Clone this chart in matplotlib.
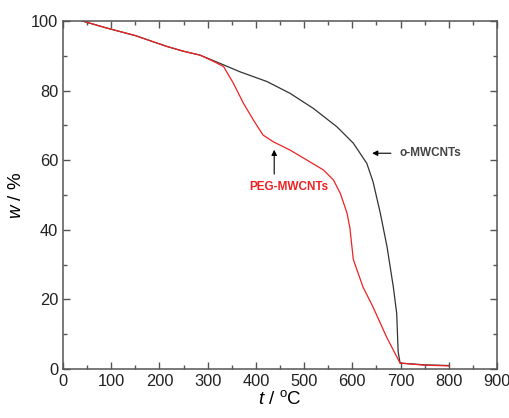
import numpy as np
import matplotlib.pyplot as plt
from matplotlib.ticker import MultipleLocator

plt.rcParams['font.family'] = ['Liberation Sans', 'DejaVu Sans']
plt.rcParams['mathtext.fontset'] = 'custom'
plt.rcParams['mathtext.it'] = 'Liberation Sans:italic'
plt.rcParams['mathtext.rm'] = 'Liberation Sans'

# --- data ---
t_o = [40, 90, 150, 215, 250, 284, 326, 367, 423, 471, 519, 568, 602, 630, 643,
       658, 672, 685, 692, 695, 699, 750, 800]
w_o = [100, 98, 95.8, 92.7, 91.3, 90.2, 87.8, 85.4, 82.6, 79.2, 74.9, 69.6, 64.9,
       59.1, 53.8, 44.8, 35.1, 23.6, 16, 5, 1.7, 1.2, 1.0]

t_peg = [40, 90, 150, 215, 250, 284, 312, 333, 353, 374, 395, 415, 436, 471, 505,
         540, 561, 575, 589, 595, 602, 622, 643, 671, 699, 750, 800]
w_peg = [100, 98, 95.8, 92.7, 91.3, 90.2, 88.4, 86.9, 82.2, 76.4, 71.5, 67.2, 65.3,
         62.9, 60.1, 57.2, 54.3, 50.5, 44.8, 40.5, 31.5, 23.6, 17.8, 9.2, 1.7, 1.1, 0.9]

fig = plt.figure(figsize=(5.1, 4.18), dpi=100)
ax = fig.add_axes([0.1235, 0.1172, 0.851, 0.8326])

ax.plot(t_o, w_o, color='#333333', lw=0.9)
ax.plot(t_peg, w_peg, color='#ee2222', lw=0.9)

ax.set_xlim(0, 900)
ax.set_ylim(0, 100)
ax.xaxis.set_major_locator(MultipleLocator(100))
ax.xaxis.set_minor_locator(MultipleLocator(50))
ax.yaxis.set_major_locator(MultipleLocator(20))
ax.yaxis.set_minor_locator(MultipleLocator(10))
ax.tick_params(which='both', direction='in', top=True, right=True,
               labelsize=11.8, color='#555555', width=1, labelcolor='#222222')
ax.tick_params(which='major', length=5)
ax.tick_params(which='minor', length=3)
for s in ax.spines.values():
    s.set_color('#555555')
    s.set_linewidth(1.1)

ax.set_xlabel(r'$\it{t}$ / $^{\rm o}$C', fontsize=13.5, labelpad=1)
ax.set_ylabel(r'$\it{w}$ / %', fontsize=13.5, labelpad=4)

# annotations
ax.annotate('', xy=(641, 62), xytext=(680, 62),
            arrowprops=dict(arrowstyle='-|>', color='black', lw=0.8,
                            mutation_scale=8, shrinkA=0, shrinkB=0))
ax.text(697, 62, 'o-MWCNTs', fontsize=8.5, fontweight='bold', color='#444444',
        va='center', ha='left')
ax.annotate('', xy=(438, 63), xytext=(438, 56),
            arrowprops=dict(arrowstyle='-|>', color='black', lw=0.8,
                            mutation_scale=8, shrinkA=0, shrinkB=0))
ax.text(469, 52.3, 'PEG-MWCNTs', fontsize=8.5, fontweight='bold', color='#ee2222',
        va='center', ha='center')

fig.savefig('out.png', dpi=100)
